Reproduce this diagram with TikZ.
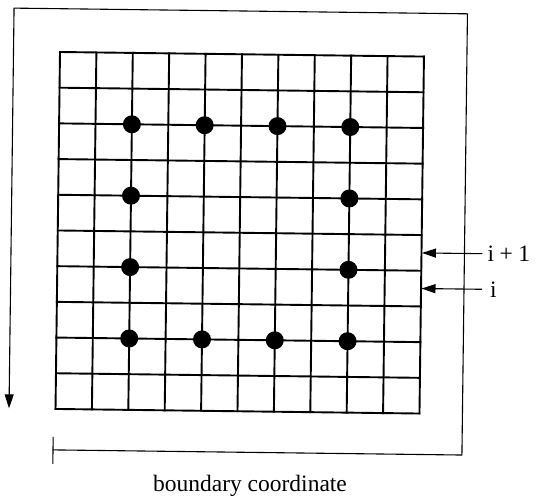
\documentclass[tikz,border=0pt]{standalone}
\usepackage{fontspec}
\setmainfont{Liberation Serif}
\usetikzlibrary{arrows.meta}
\begin{document}
\begin{tikzpicture}[x=1pt,y=-1pt,
  gridline/.style={line width=1.9pt, line cap=rect},
  frameline/.style={line width=1.1pt},
  dot/.style={circle, fill=black, inner sep=0pt, minimum size=18pt},
  tipped/.style={-{Triangle[length=14pt,width=9pt]}},
  lbl/.style={font=\fontsize{23.5}{28}\selectfont, inner sep=0pt}]
\useasboundingbox (0,0) rectangle (538,502);
\begin{scope}[shift={(60,52)}, rotate=-0.72]
  % grid
  \foreach \i in {0,...,10} {
    \draw[gridline] (\i*36.4,0) -- (\i*36.4,357);
    \draw[gridline] (0,\i*35.7) -- (364,\i*35.7);
  }
  % dots
  \foreach \c in {2,4,6,8} {
    \node[dot] (d2-\c) at (\c*36.4,2*35.7) {};
    \node[dot] (d8-\c) at (\c*36.4,8*35.7) {};
  }
  \foreach \r in {4,6} {
    \node[dot] (d\r-2) at (2*36.4,\r*35.7) {};
    \node[dot] (d\r-8) at (8*36.4,\r*35.7) {};
  }
  % boundary frame
  \coordinate (tickT) at (-2,385);
  \coordinate (tickB) at (-2,412);
  \coordinate (fstart) at (-2,398);
  \coordinate (fc1) at (407,398);
  \coordinate (fc2) at (407,-43.3);
  \coordinate (fc3) at (-46.5,-43.3);
  \coordinate (fend) at (-46.5,357);
  \draw[frameline] (tickT) -- (tickB);
  \draw[frameline, tipped] (fstart) -- (fc1) -- (fc2) -- (fc3) -- (fend);
  % row markers
  \coordinate (rowip1) at (364.5,196.4);
  \coordinate (rowi) at (364.5,232);
  \node[lbl, anchor=west] (lip1) at (430,196.4) {i\hspace{5.5pt}+\hspace{5.5pt}1};
  \node[lbl, anchor=west] (li) at (433,232) {i};
  \draw[frameline, tipped] ([xshift=-5pt]lip1.west) -- (rowip1);
  \draw[frameline, tipped] ([xshift=-8pt]li.west) -- (rowi);
\end{scope}
\node[lbl] (bc) at (250,486) {boundary coordinate};
\end{tikzpicture}
\end{document}
